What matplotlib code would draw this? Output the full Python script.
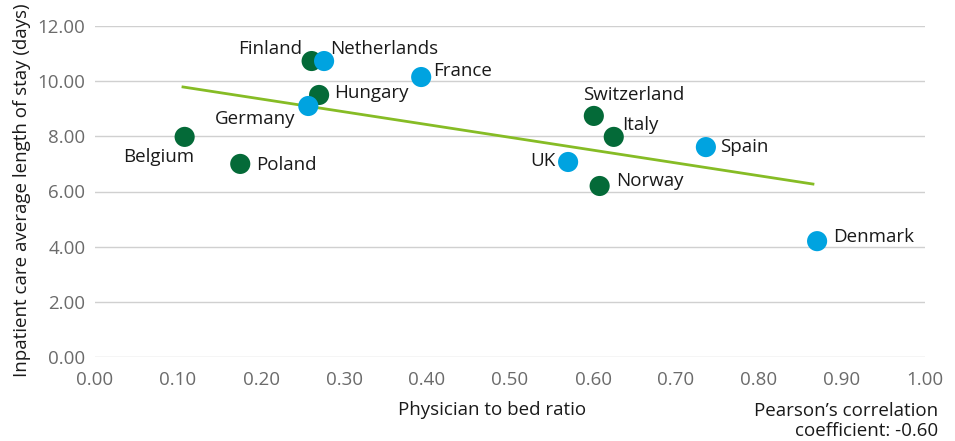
import numpy as np
import matplotlib
matplotlib.use("Agg")
from matplotlib import pyplot as plt

plt.rcParams["font.family"] = ["Open Sans", "DejaVu Sans"]

# data
countries = ["Belgium", "Poland", "Finland", "Netherlands", "Hungary", "Germany",
             "France", "Switzerland", "Italy", "UK", "Norway", "Spain", "Denmark"]
ratio = [0.108, 0.175, 0.261, 0.276, 0.270, 0.257, 0.393, 0.601, 0.625, 0.570, 0.608, 0.736, 0.870]
stay = [7.98, 7.00, 10.73, 10.73, 9.50, 9.10, 10.15, 8.74, 7.98, 7.07, 6.20, 7.61, 4.20]
group = ["g", "g", "g", "b", "g", "b", "b", "g", "g", "b", "g", "b", "b"]
trend_x = [0.106, 0.865]
trend_y = [9.79, 6.27]
x_ticks = np.arange(0, 1.01, 0.1)
y_ticks = np.arange(0, 12.1, 2)

colors = {"g": "#046A38", "b": "#00A3E0"}
# label placement: (dx, dy) in pixels, horizontal alignment
offsets = {
    "Belgium": (-26, -20, "center"), "Poland": (16, -1, "left"),
    "Finland": (-10, 12, "right"), "Netherlands": (6, 12, "left"),
    "Hungary": (15, 2, "left"), "Germany": (-13, -13, "right"),
    "France": (12, 6, "left"), "Switzerland": (-11, 21, "left"),
    "Italy": (8, 12, "left"), "UK": (-13, 1, "right"),
    "Norway": (16, 5, "left"), "Spain": (14, 0, "left"),
    "Denmark": (16, 4, "left"),
}

fig = plt.figure(figsize=(9.55, 4.41), dpi=100)
ax = fig.add_axes([95 / 955, 84 / 441, 830 / 955, 331 / 441])

ax.plot(trend_x, trend_y, color="#86BC25", lw=2, zorder=2)
ax.scatter(ratio, stay, s=210, c=[colors[g] for g in group], zorder=3,
           linewidths=0, clip_on=False)
for name, x, y in zip(countries, ratio, stay):
    dx, dy, ha = offsets[name]
    ax.annotate(name, (x, y), xytext=(dx, dy), textcoords="offset pixels",
                ha=ha, va="center", fontsize=13.5, color="#1a1a1a")

ax.set_xlim(0, 1)
ax.set_ylim(0, 12)
ax.set_xticks(x_ticks)
ax.set_yticks(y_ticks)
ax.set_xticklabels([f"{v:.2f}" for v in x_ticks])
ax.set_yticklabels([f"{v:.2f}" for v in y_ticks])
ax.tick_params(length=0, labelsize=13.5, labelcolor="#6b6b6b")
ax.tick_params(axis="x", pad=10)
ax.tick_params(axis="y", pad=7)
ax.grid(axis="y", color="#d0d0d0", lw=1)
ax.set_axisbelow(True)
for s in ax.spines.values():
    s.set_visible(False)

fig.text(492 / 955, 1 - 410 / 441, "Physician to bed ratio", ha="center", va="center",
         fontsize=13.5, color="#1a1a1a")
fig.text(938 / 955, 1 - 421 / 441, "Pearson\u2019s correlation\ncoefficient: -0.60",
         ha="right", va="center", fontsize=13.5, color="#1a1a1a", linespacing=1.15)
fig.text(22 / 955, 1 - 190 / 441, "Inpatient care average length of stay (days)",
         rotation=90, ha="center", va="center", fontsize=13.5, color="#1a1a1a")

fig.savefig("out.png", dpi=100)
